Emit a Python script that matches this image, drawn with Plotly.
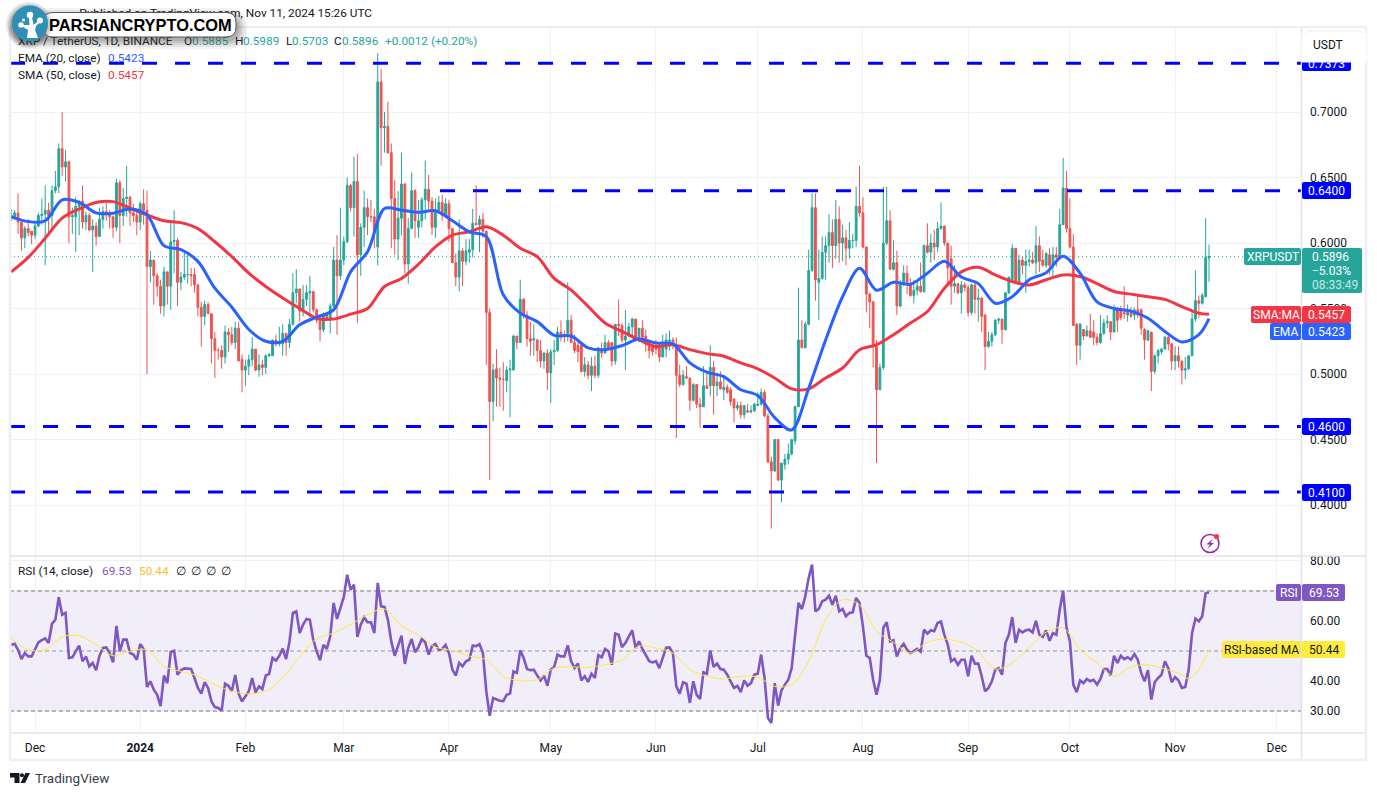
import pandas as pd
import plotly.graph_objects as go

first_date = "2023-11-24"
open_ = [
.619,.620,.623,.616,.604,.611,.609,.606,.613,.621,
.622,.625,.621,.640,.643,.672,.658,.662,.620,.620,
.628,.632,.616,.621,.610,.613,.605,.618,.624,.623,
.620,.612,.646,.621,.634,.635,.623,.621,.616,.630,
.625,.582,.587,.575,.567,.552,.578,.567,.601,.602,
.570,.574,.576,.576,.576,.568,.551,.544,.553,.546,
.527,.518,.518,.513,.532,.530,.524,.535,.511,.503,
.506,.511,.519,.503,.507,.505,.514,.514,.526,.523,
.523,.531,.524,.538,.562,.565,.548,.557,.562,.563,
.549,.541,.534,.545,.542,.552,.587,.575,.587,.601,
.644,.627,.647,.591,.612,.627,.620,.620,.597,.723,
.688,.689,.669,.634,.603,.619,.645,.584,.611,.640,
.612,.617,.633,.641,.632,.612,.625,.631,.621,.630,
.611,.585,.574,.594,.586,.593,.595,.615,.614,.618,
.609,.547,.479,.504,.497,.496,.495,.503,.503,.529,
.524,.557,.545,.527,.526,.526,.518,.510,.516,.501,
.517,.518,.532,.530,.531,.541,.524,.522,.522,.502,
.507,.499,.506,.499,.519,.516,.524,.524,.510,.538,
.537,.526,.529,.536,.542,.528,.535,.529,.524,.521,
.520,.521,.513,.519,.525,.526,.522,.499,.492,.498,
.497,.480,.492,.477,.475,.491,.491,.505,.491,.494,
.488,.490,.488,.481,.474,.476,.469,.472,.471,.472,
.476,.477,.486,.468,.433,.426,.450,.419,.431,.435,
.439,.449,.475,.526,.520,.538,.579,.627,.570,.573,
.593,.598,.608,.598,.618,.600,.604,.596,.602,.602,
.628,.623,.597,.561,.555,.521,.488,.505,.600,.617,
.580,.585,.552,.569,.577,.569,.560,.564,.567,.563,
.598,.593,.600,.597,.611,.613,.600,.588,.567,.569,
.562,.568,.566,.547,.568,.557,.558,.545,.521,.525,
.530,.541,.542,.534,.562,.572,.596,.570,.587,.583,
.586,.587,.585,.598,.587,.583,.591,.583,.591,.589,
.614,.642,.611,.597,.538,.522,.534,.529,.533,.532,
.528,.524,.531,.539,.540,.532,.550,.550,.547,.545,
.547,.545,.549,.549,.534,.526,.532,.502,.514,.517,
.519,.528,.523,.510,.514,.510,.503,.504,.514,.542,
.556,.554,.559,.5885]
high = [
.626,.625,.638,.616,.613,.618,.609,.615,.623,.634,
.644,.631,.644,.655,.676,.700,.671,.663,.627,.635,
.633,.644,.624,.623,.618,.616,.627,.628,.631,.625,
.621,.649,.648,.642,.659,.636,.630,.626,.632,.641,
.640,.594,.587,.577,.572,.582,.578,.616,.625,.604,
.578,.593,.591,.581,.581,.569,.555,.556,.555,.546,
.532,.520,.522,.537,.535,.536,.540,.540,.515,.511,
.515,.528,.519,.515,.511,.515,.516,.526,.530,.536,
.538,.531,.542,.577,.580,.565,.568,.568,.575,.563,
.550,.544,.547,.547,.554,.597,.606,.627,.605,.650,
.645,.666,.668,.615,.640,.634,.633,.626,.745,.733,
.700,.708,.676,.648,.640,.669,.646,.619,.654,.641,
.633,.635,.663,.652,.635,.634,.636,.637,.634,.633,
.611,.592,.618,.596,.603,.603,.626,.644,.621,.623,
.609,.550,.508,.519,.505,.509,.506,.511,.530,.529,
.572,.558,.548,.540,.538,.527,.526,.517,.519,.519,
.526,.536,.541,.533,.570,.545,.530,.524,.522,.513,
.510,.513,.514,.520,.524,.530,.526,.524,.538,.557,
.539,.549,.539,.543,.542,.535,.541,.534,.524,.524,
.526,.524,.530,.531,.533,.528,.528,.507,.503,.506,
.497,.493,.492,.482,.506,.502,.522,.510,.501,.502,
.499,.492,.490,.481,.479,.479,.476,.477,.476,.478,
.486,.489,.488,.470,.437,.450,.450,.432,.439,.447,
.450,.476,.566,.541,.540,.595,.638,.638,.595,.605,
.605,.622,.618,.633,.628,.614,.610,.616,.607,.643,
.659,.635,.597,.562,.556,.526,.508,.643,.643,.625,
.602,.594,.572,.583,.583,.573,.572,.571,.585,.599,
.615,.607,.610,.616,.631,.613,.600,.598,.583,.569,
.571,.570,.568,.569,.569,.565,.559,.546,.532,.532,
.542,.543,.542,.562,.574,.599,.596,.591,.590,.595,
.595,.593,.613,.605,.595,.593,.596,.597,.597,.626,
.665,.655,.634,.607,.539,.539,.534,.537,.546,.541,
.531,.545,.542,.545,.540,.553,.551,.552,.567,.553,
.551,.551,.560,.550,.535,.534,.532,.515,.519,.520,
.529,.529,.524,.521,.521,.510,.513,.514,.548,.579,
.560,.562,.619,.5989]
low = [
.617,.618,.607,.594,.596,.605,.599,.603,.612,.614,
.583,.608,.611,.638,.638,.651,.647,.600,.607,.593,
.606,.611,.610,.609,.578,.598,.605,.611,.617,.611,
.604,.609,.600,.613,.620,.613,.616,.606,.610,.614,
.500,.570,.553,.559,.546,.544,.553,.549,.577,.552,
.564,.572,.569,.567,.562,.544,.521,.537,.546,.508,
.497,.511,.504,.508,.517,.522,.519,.510,.486,.491,
.499,.506,.502,.498,.499,.500,.513,.514,.521,.521,
.514,.514,.520,.537,.554,.540,.544,.552,.543,.547,
.539,.525,.532,.541,.531,.548,.530,.572,.583,.600,
.624,.605,.539,.575,.597,.606,.616,.596,.583,.659,
.669,.668,.596,.591,.587,.606,.577,.569,.611,.604,
.604,.612,.618,.624,.606,.604,.624,.617,.619,.601,
.585,.567,.563,.567,.583,.585,.589,.614,.593,.604,
.507,.419,.464,.475,.475,.472,.486,.467,.503,.519,
.524,.542,.521,.514,.514,.509,.505,.504,.488,.478,
.507,.517,.525,.524,.525,.524,.516,.509,.501,.498,
.496,.487,.497,.497,.512,.516,.520,.506,.507,.529,
.524,.503,.528,.529,.527,.524,.527,.517,.512,.514,
.515,.509,.513,.513,.518,.519,.451,.490,.491,.496,
.472,.479,.474,.459,.475,.489,.483,.469,.483,.488,
.480,.485,.476,.463,.472,.466,.466,.470,.470,.471,
.476,.476,.467,.432,.382,.425,.419,.402,.427,.431,
.438,.446,.475,.520,.520,.537,.578,.556,.541,.572,
.572,.585,.581,.588,.585,.586,.583,.588,.596,.597,
.620,.596,.547,.535,.505,.432,.488,.503,.598,.580,
.579,.545,.551,.567,.561,.559,.554,.560,.562,.562,
.592,.585,.587,.593,.610,.598,.568,.553,.562,.561,
.546,.563,.544,.545,.546,.540,.532,.503,.520,.521,
.529,.538,.523,.533,.561,.571,.569,.570,.576,.562,
.582,.584,.576,.578,.582,.581,.576,.574,.582,.589,
.614,.608,.596,.537,.507,.511,.526,.529,.528,.522,
.522,.523,.530,.535,.526,.532,.532,.541,.542,.540,
.543,.541,.543,.530,.511,.525,.487,.500,.508,.515,
.519,.518,.503,.503,.505,.492,.496,.503,.514,.540,
.543,.553,.559,.5703]
close = [
.621,.623,.616,.604,.611,.608,.606,.613,.621,.622,
.625,.621,.640,.643,.672,.658,.662,.620,.621,.628,
.631,.616,.621,.610,.613,.605,.618,.624,.623,.620,
.612,.646,.621,.634,.635,.623,.621,.616,.630,.625,
.582,.587,.575,.567,.552,.578,.567,.601,.602,.570,
.574,.576,.576,.575,.568,.551,.544,.553,.546,.527,
.518,.518,.513,.532,.530,.524,.535,.510,.503,.506,
.511,.519,.503,.507,.505,.514,.515,.526,.523,.525,
.531,.524,.538,.562,.565,.548,.557,.562,.563,.549,
.541,.534,.545,.542,.552,.587,.575,.587,.601,.644,
.627,.647,.591,.612,.627,.620,.620,.608,.723,.688,
.689,.669,.634,.603,.619,.645,.584,.611,.640,.617,
.617,.633,.641,.632,.612,.625,.631,.621,.630,.611,
.585,.574,.594,.586,.594,.595,.615,.614,.618,.609,
.547,.479,.503,.497,.496,.496,.503,.504,.529,.524,
.557,.545,.527,.525,.527,.518,.510,.516,.501,.517,
.518,.532,.529,.529,.541,.524,.518,.517,.502,.507,
.499,.506,.499,.520,.516,.524,.520,.510,.538,.537,
.526,.529,.536,.542,.528,.535,.528,.524,.518,.517,
.519,.513,.523,.526,.526,.522,.499,.492,.499,.497,
.480,.492,.477,.475,.491,.489,.505,.491,.494,.489,
.490,.486,.479,.474,.476,.469,.476,.471,.472,.477,
.477,.486,.468,.433,.426,.450,.419,.432,.435,.439,
.450,.475,.526,.520,.538,.579,.627,.572,.573,.593,
.598,.608,.598,.618,.600,.604,.596,.602,.602,.628,
.623,.597,.561,.555,.521,.488,.505,.600,.617,.580,
.585,.552,.569,.577,.568,.560,.564,.567,.563,.598,
.593,.600,.597,.611,.613,.600,.581,.567,.569,.562,
.568,.566,.547,.568,.557,.558,.544,.521,.525,.530,
.541,.542,.534,.562,.574,.596,.570,.587,.583,.586,
.587,.585,.598,.586,.583,.592,.583,.591,.589,.614,
.642,.611,.597,.537,.522,.538,.529,.533,.528,.528,
.524,.531,.539,.540,.532,.549,.541,.543,.546,.547,
.544,.549,.545,.535,.526,.533,.502,.514,.518,.519,
.528,.523,.510,.514,.510,.503,.504,.514,.542,.556,
.554,.560,.589,.5896]

ma_days = list(range(0, 351, 5)) + [353]
ema20 = [
.620,.6164,.617,.633,.631,.623,.6227,.626,.6215,.598,
.595,.586,.5655,.551,.534,.525,.525,.5376,.5434,.549,
.578,.5934,.6264,.625,.6234,.6246,.617,.6086,.605,.5605,
.5465,.540,.5295,.529,.520,.5186,.5217,.5267,.5237,.523,
.5085,.5014,.498,.488,.4836,.4667,.4573,.489,.526,.559,
.5807,.564,.570,.5685,.577,.586,.574,.569,.554,.559,
.572,.5774,.590,.577,.555,.550,.548,.5426,.5325,.5245,
.530,.5423]
sma50 = [
.578,.589,.6037,.619,.626,.631,.6316,.6266,.6215,.617,
.6156,.611,.601,.5896,.577,.5668,.558,.550,.5426,.542,
.5457,.550,.5668,.573,.5838,.597,.606,.6086,.6124,.606,
.596,.5896,.573,.564,.5516,.539,.5326,.526,.521,.5224,
.5186,.5156,.5136,.5085,.504,.497,.4887,.4887,.497,.5046,
.5185,.5223,.530,.539,.5477,.5655,.578,.5815,.5756,.5706,
.568,.572,.5756,.5744,.569,.563,.561,.559,.557,.5515,
.5465,.5457]

rsi = [
52.1,52.4,50.4,47.3,49.3,48.2,48.2,50.4,52.9,53.6,
54.2,52.7,59.1,60.4,67.9,62.1,62.7,47.7,47.9,49.9,
51.8,46.6,48.2,44.9,46,43.6,48.4,51,51.2,49.3,
46.2,58.4,49.9,53.8,53.8,49.3,48.8,47.1,52.3,50.7,
38,39.9,37.1,35.4,31.6,41.8,39.3,49.7,50.1,42.1,
43.6,44.2,44.2,44,41,37.7,35.8,39.6,37.7,33.2,
31.3,31,30.1,39.1,38.4,36.6,42,35.8,33.2,34.9,
36.6,41,36.2,38.2,37.3,41.8,42.4,47.7,46.8,48.4,
50.8,47.3,53.2,62.7,63.2,56,58.8,60.7,60.4,53.8,
49.9,46.9,52.1,50.7,54.9,66,60.7,64.3,68,75.4,
70.4,72.1,54.7,58.8,61.2,59.6,59.6,56,72.7,64.9,
64.7,60.4,53.2,48.4,51.6,55.1,45.7,51,54,49.6,
51.3,54,52.9,48.8,51.6,52.3,50.4,50.7,52,49.3,
43.8,41.8,46,44.9,46.6,47.1,51.8,51.6,52.3,49.3,
36.6,28.4,34.3,33.8,33.4,33.3,35.4,35.8,43.2,42.7,
50.2,47.7,44,43.6,43.8,41.8,40.2,41.8,38.4,43.8,
44.7,48.8,48.2,48.2,51.9,46.6,44.3,45.8,40.2,41.6,
39.7,42.4,41,48.6,47.9,50.7,49.9,45.4,55.8,55.4,
51.3,52.7,54.9,56.9,51,53.2,50.7,48.8,46.6,46.2,
46.6,44.3,47.7,51.1,51.2,49.3,38.2,35.8,39.6,39.1,
32.7,39.9,35.4,34,42.9,42.4,50.2,44.7,45.8,44,
43.8,42.1,39.9,37.7,38.4,36.3,40.2,38.4,39.3,42.1,
42.4,48.8,41,27.7,26,39.3,31.8,36.9,38.8,40.4,
44.3,54.3,66,64,68.2,74.3,78.8,63.2,64,66.6,
67.1,68.4,65.4,68.4,63.2,64,61.6,62.7,62.9,67.7,
66,58.2,48.4,47.7,40.4,35.4,40.4,57.7,59.6,53.2,
53.6,48.2,51,52.4,50.4,49.3,49.9,50.7,49.8,57.1,
55.8,56.9,56.6,59.3,59.8,55.4,52.1,46.6,47.4,45.4,
47.1,47.1,41.6,48.4,45.8,45.8,41.6,36.6,37.7,39.9,
43.8,44.3,42.1,52.7,55.4,61.3,52.7,57.1,56.2,56.9,
57.1,56.2,60.1,55.4,54.7,56.9,53.4,56,55.4,63.8,
70,57.7,53.2,38.8,36.3,40.2,39.3,40.7,39.9,40.4,
38.8,40.7,44,44,41.8,48.4,46,48.4,47.3,47.9,
47.1,49,47.1,42.7,39.9,43.6,33.8,39.6,41,42.1,
46.6,44.3,39.6,41.3,40.2,37.7,38,43.8,56,60.8,
59.9,61.6,69.3,69.53]

rsi_ma_days = list(range(0, 346, 5)) + [347, 350, 353]
rsi_ma = [
54.3,50.4,50.4,54.7,55.1,52.1,48.4,49.9,50.4,44.9,
43.2,41.6,38.8,36.6,35.7,36.6,41,48.2,54.1,56,
58.8,62.1,64,58.4,55.4,51.3,50.2,48.3,47.1,41.6,
40.1,40.4,44.3,44.7,44.6,45.4,47.1,51.6,51,49.3,
43.8,41.6,40.7,41.6,41.3,38.2,38.8,46.6,60.4,67.1,
65.4,56.6,52.9,49.3,52.9,54,52.9,49.9,44,46,
51.3,56.3,57.7,50.4,46,41.6,44.7,45.4,44,42.1,
40.7,43.8,50.44]

level_values = [0.7373, 0.64, 0.46, 0.41]
level_starts = ["2023-11-23 15:00", "2024-03-29 08:30", "2023-11-23 15:00", "2023-11-23 15:00"]
price_ticks = [0.40, 0.45, 0.50, 0.55, 0.60, 0.65, 0.70]
rsi_ticks = [30, 40, 50, 60, 70, 80]
month_ticks = ["2023-12-01", "2024-01-01", "2024-02-01", "2024-03-01", "2024-04-01", "2024-05-01",
               "2024-06-01", "2024-07-01", "2024-08-01", "2024-09-01", "2024-10-01", "2024-11-01", "2024-12-01"]
month_labels = ["Dec", "<b>2024</b>", "Feb", "Mar", "Apr", "May", "Jun", "Jul", "Aug", "Sep", "Oct", "Nov", "Dec"]

W, H = 1377, 796
X_RANGE = ["2023-11-23 15:00", "2024-12-08 02:30"]
FONT = "Roboto"
INK = "#131722"
GRID = "#f0f1f5"
UP, DOWN = "#26a69a", "#ef5350"
BLUE, RED, PURPLE, YELLOW = "#2962ff", "#f23645", "#7e57c2", "#ffeb3b"

dates = pd.date_range(first_date, periods=len(close), freq="D")
fig = go.Figure()

fig.add_trace(go.Candlestick(
    x=dates, open=open_, high=high, low=low, close=close, xaxis="x", yaxis="y",
    increasing=dict(line=dict(color=UP, width=1), fillcolor=UP),
    decreasing=dict(line=dict(color=DOWN, width=1), fillcolor=DOWN),
    whiskerwidth=0, hoverinfo="skip", showlegend=False))

def line(x, y, color, width, xa="x", ya="y", dash=None, shape="linear"):
    fig.add_trace(go.Scatter(x=x, y=y, mode="lines", xaxis=xa, yaxis=ya, hoverinfo="skip", showlegend=False,
                             line=dict(color=color, width=width, dash=dash, shape=shape,
                                       smoothing=0.9 if shape == "spline" else None)))

line([X_RANGE[0], X_RANGE[1]], [close[-1], close[-1]], UP, 1, dash="1px,3px")
for val, start in zip(level_values, level_starts):
    line([start, X_RANGE[1]], [val, val], "#0000ff", 3, dash="15px,18px")
line(dates[ma_days], sma50, RED, 3, shape="spline")
line(dates[ma_days], ema20, BLUE, 3, shape="spline")

for lvl, col in [(70, "#787b86"), (50, "#9598a1"), (30, "#787b86")]:
    line([X_RANGE[0], X_RANGE[1]], [lvl, lvl], col, 1, "x2", "y2", dash="4px,3px")
line(dates, rsi, PURPLE, 2.6, "x2", "y2")
line(dates[rsi_ma_days], rsi_ma, YELLOW, 1, "x2", "y2", shape="spline")

# Text that the logo and its shadow sit on top of, on a pixel-scaled overlay axis.
def under_text(items, pos):
    fig.add_trace(go.Scatter(
        x=[i[0] for i in items], y=[i[1] for i in items], text=[i[2] for i in items],
        mode="text", textposition=pos, xaxis="x3", yaxis="y3", hoverinfo="skip", showlegend=False,
        textfont=dict(family=FONT, size=11.8, color=[i[3] for i in items])))

under_text([(372, 14, "Published on TradingView.com, Nov 11, 2024 15:26 UTC", INK)], "middle left")
under_text([
    (18, 42, "XRP / TetherUS, 1D, BINANCE", INK), (184, 42, "O", INK), (192, 42, "0.5885", UP),
    (235, 42, "H", INK), (243, 42, "0.5989", UP), (286, 42, "L", INK), (292, 42, "0.5703", UP),
    (334, 42, "C", INK), (342, 42, "0.5896", UP), (385, 42, "+0.0012 (+0.20%)", UP),
    (18, 59, "EMA (20, close)", INK), (108, 59, "0.5423", BLUE),
    (18, 76, "SMA (50, close)", INK), (108, 76, "0.5457", RED),
    (18, 572, "RSI (14, close)", INK), (102, 572, "69.53", PURPLE), (139, 572, "50.44", "#fbc02d"),
    (176, 572, "∅", INK), (191, 572, "∅", INK), (206, 572, "∅", INK), (221, 572, "∅", INK),
], "middle right")

shapes, annos = [], []

def rrect(x0, y0, x1, y1, r):
    return (f"M {x0+r} {y0} L {x1-r} {y0} Q {x1} {y0} {x1} {y0+r} L {x1} {y1-r} Q {x1} {y1} {x1-r} {y1} "
            f"L {x0+r} {y1} Q {x0} {y1} {x0} {y1-r} L {x0} {y0+r} Q {x0} {y0} {x0+r} {y0} Z")

def pshape(path, fill, lc=None, lw=0, layer="above", opacity=1):
    shapes.append(dict(type="path", path=path, xref="x3", yref="y3", fillcolor=fill, opacity=opacity, layer=layer,
                       line=dict(color=lc or fill, width=lw)))

def circle(cx, cy, r, fill, lc=None, lw=0, opacity=1):
    shapes.append(dict(type="circle", xref="x3", yref="y3", x0=cx-r, x1=cx+r, y0=cy-r, y1=cy+r, fillcolor=fill,
                       opacity=opacity, layer="above", line=dict(color=lc or fill, width=lw)))

def seg(x0, y0, x1, y1, color, width, layer="above"):
    shapes.append(dict(type="line", xref="x3", yref="y3", x0=x0, y0=y0, x1=x1, y1=y1, layer=layer,
                       line=dict(color=color, width=width)))

def text(x, y, s, color="#ffffff", size=12, anchor="center", family=FONT, weight=None):
    annos.append(dict(x=x, y=y, xref="x3", yref="y3", text=s, showarrow=False, xanchor=anchor, yanchor="middle",
                      font=dict(family=family, size=size, color=color, weight=weight)))

# RSI band, drawn on the RSI pane's own axes so it stays under the RSI line
shapes.append(dict(type="rect", xref="x2", yref="y2", x0=X_RANGE[0], x1=X_RANGE[1], y0=30, y1=70,
                   fillcolor="#f1edf9", layer="below", line=dict(width=0)))

# frame and panes
seg(10, 556, 1301, 556, "#e0e3eb", 1.5)
seg(10, 733, 1367, 733, "#e0e3eb", 1.5)
seg(1301.5, 27, 1301.5, 760, "#e0e3eb", 1.5)
seg(1301, 556, 1367, 556, "#e0e3eb", 1.5)
for a in [(10, 27, 1367, 27), (10, 27, 10, 760), (1366, 27, 1366, 760), (10, 760, 1367, 760)]:
    seg(*a, "#eeeff5", 2.5)

# masks that clip the axis labels at the pane edges
pshape("M 1303 545 L 1364 545 L 1364 555 L 1303 555 Z", "#ffffff")

# right-axis tags
def tag(x0, y0, x1, y1, fill):
    pshape(rrect(x0, y0, x1, y1, 2), fill)

tag(1302, 60, 1351, 71, "#0000ff")
tag(1302, 182, 1351, 199, "#0000ff")
tag(1302, 418, 1351, 435, "#0000ff")
tag(1302, 484, 1351, 501, "#0000ff")
text(1326.5, 63.5, "0.7373"); text(1326.5, 190.5, "0.6400"); text(1326.5, 426.5, "0.4600"); text(1326.5, 492.5, "0.4100")
tag(1244, 248, 1301, 265, UP); tag(1302, 248, 1362, 293, UP)
text(1272.5, 256.5, "XRPUSDT"); text(1310, 256.5, "0.5896", anchor="left")
text(1310, 271, "−5.03%", anchor="left"); text(1310, 284.5, "08:33:49", "#c6e8e4", anchor="left")
tag(1251, 306, 1301, 323, RED); tag(1302, 306, 1351, 323, RED)
text(1276, 314.5, "SMA:MA"); text(1326.5, 314.5, "0.5457")
tag(1270, 323, 1301, 340, BLUE); tag(1302, 323, 1351, 340, BLUE)
text(1285.5, 331.5, "EMA"); text(1326.5, 331.5, "0.5423")
tag(1276, 584, 1301, 601, PURPLE); tag(1302, 584, 1345, 601, PURPLE)
text(1288.5, 592.5, "RSI"); text(1323.5, 592.5, "69.53")
tag(1222, 641, 1301, 658, YELLOW); tag(1302, 641, 1345, 658, YELLOW)
text(1261.5, 649.5, "RSI-based MA", INK); text(1323.5, 649.5, "50.44", INK)

# USDT box, painted by annotations so it clips the 0.7373 label
annos.append(dict(x=1334, y=48, xref="x3", yref="y3", text=" ", showarrow=False, width=62, height=26, bgcolor="#ffffff"))
pshape(rrect(1305, 31, 1363, 57, 5), "#ffffff", "#eceef3", 1.2)
text(1327.5, 44.5, "USDT", INK)

# PARSIANCRYPTO badge: shadow, pill, round logo
for grow, op in [(9, .06), (7, .07), (5, .09), (3, .11), (1, .13)]:
    pshape(rrect(18 - grow, 14 - grow + 3, 238 + grow, 38 + grow + 2, 11 + grow), "#333333", opacity=op)
pshape(rrect(43, 12.5, 236, 37, 10), "#ffffff", "#555555", 1)
for grow, op in [(5, .12), (3, .15), (1, .2)]:
    circle(29, 25, 18 + grow, "#333333", opacity=op)
circle(30, 23.5, 18, "#2f8fb6")
pshape("M 27 38 L 38 38 L 35 30 L 36 26 L 40 22 L 38.5 21 L 33.5 25 L 32 17 L 29 17 L 29.5 25 L 24 25 L 22 24 L 21.5 26 "
       "L 28 30 Z", "#ffffff")
circle(21, 25, 2.7, "#ffffff"); circle(30, 15, 3.2, "#ffffff"); circle(40, 20.5, 3, "#ffffff"); circle(23.5, 20, 1.5, "#ffffff")
text(140, 25, "PARSIANCRYPTO.COM", "#000000", 16.4, family="Liberation Sans", weight="bold")

# news-flash icon
circle(1210, 543.5, 9, "rgba(0,0,0,0)", "#9c27b0", 1.5)
pshape("M 1213 538.5 L 1206.5 544.5 L 1210 544.5 L 1207 549 L 1214 543 L 1210.5 543 Z", "#9c27b0")
circle(1216.5, 536.5, 2.6, RED)

# TradingView footer
pshape("M 10 773 L 19.5 773 L 19.5 783 L 14.5 783 L 14.5 777.5 L 10 777.5 Z", "#131722")
circle(22, 775.2, 2, "#131722")
pshape("M 25.5 773 L 30 773 L 25 783 L 20.5 783 Z", "#131722")
text(33, 778, "TradingView", "#3a3e4a", 13.5, anchor="left")

axis_common = dict(showline=False, zeroline=False, fixedrange=True)
fig.update_layout(
    width=W, height=H, autosize=False, margin=dict(l=0, r=0, t=0, b=0, autoexpand=False),
    paper_bgcolor="#ffffff", plot_bgcolor="rgba(0,0,0,0)", showlegend=False,
    font=dict(family=FONT, size=12, color=INK), hovermode=False, boxgap=0.25,
    xaxis=dict(domain=[10/W, 1301/W], range=X_RANGE, type="date", anchor="y", tickvals=month_ticks, showticklabels=False,
               showgrid=True, gridcolor=GRID, gridwidth=1, rangeslider=dict(visible=False), ticks="", **axis_common),
    yaxis=dict(domain=[1-556/H, 1-27/H], range=[0.3611, 0.7649], side="right", anchor="x", tickvals=price_ticks,
               tickformat=".4f", showgrid=True, gridcolor=GRID, gridwidth=1, ticks="", ticklabelstandoff=8,
               tickfont=dict(family=FONT, size=12, color=INK), **axis_common),
    xaxis2=dict(domain=[10/W, 1301/W], range=X_RANGE, type="date", anchor="y2", tickvals=month_ticks, ticktext=month_labels,
                showgrid=True, gridcolor=GRID, gridwidth=1, ticks="", ticklabelstandoff=6,
                tickfont=dict(family=FONT, size=12, color=INK), **axis_common),
    yaxis2=dict(domain=[1-733/H, 1-557/H], range=[22.67, 81.33], side="right", anchor="x2", tickvals=rsi_ticks,
                tickformat=".2f", showgrid=True, gridcolor=GRID, gridwidth=1, ticks="", ticklabelstandoff=8,
                tickfont=dict(family=FONT, size=12, color=INK), **axis_common),
    xaxis3=dict(domain=[0, 1], range=[0, W], anchor="y3", visible=False, **axis_common),
    yaxis3=dict(domain=[0, 1], range=[H, 0], anchor="x3", visible=False, **axis_common),
    shapes=shapes, annotations=annos,
)
fig.write_html("out.html", config=dict(displayModeBar=False),
               post_script="document.body.style.margin='0';document.body.style.overflow='hidden';")
